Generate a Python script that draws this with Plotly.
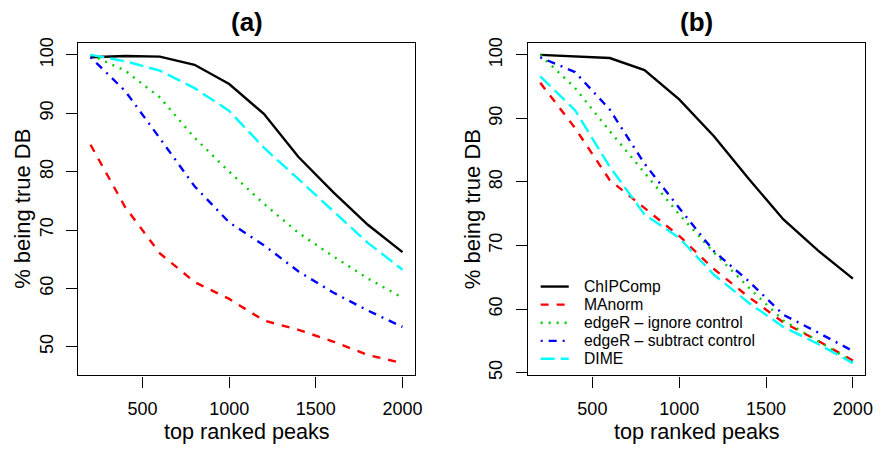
import plotly.graph_objects as go

W, H = 881, 450

peaks = [200, 400, 600, 800, 1000, 1200, 1400, 1600, 1800, 2000]

series_names = ["ChIPComp", "MAnorm", "edgeR \u2013 ignore control",
                "edgeR \u2013 subtract control", "DIME"]

chipcomp_a = [99.6, 99.8, 99.7, 98.3, 95.0, 89.9, 82.5, 76.5, 70.9, 66.2]
manorm_a = [84.6, 73.9, 66.0, 61.1, 58.2, 54.5, 52.9, 50.9, 48.6, 47.2]
edger_ign_a = [100.0, 97.3, 92.7, 85.8, 80.0, 74.5, 69.5, 65.5, 61.7, 58.4]
edger_sub_a = [99.6, 93.8, 85.7, 77.5, 71.3, 67.4, 62.9, 59.3, 56.2, 53.4]
dime_a = [100.0, 98.9, 97.3, 94.3, 90.4, 84.1, 78.7, 73.2, 67.8, 63.2]

chipcomp_b = [100.0, 99.8, 99.5, 97.6, 93.0, 87.2, 80.5, 74.1, 69.2, 64.8]
manorm_b = [95.6, 88.5, 80.3, 75.9, 71.5, 66.3, 61.9, 57.9, 55.0, 51.9]
edger_ign_b = [100.0, 94.8, 88.0, 81.5, 74.9, 68.9, 63.4, 58.2, 55.0, 51.7]
edger_sub_b = [99.6, 97.3, 91.4, 82.9, 75.9, 69.1, 64.4, 59.1, 56.3, 53.4]
dime_b = [96.6, 91.3, 82.4, 74.9, 71.2, 65.4, 61.0, 57.2, 54.5, 51.5]

x_ticks = [500, 1000, 1500, 2000]
y_ticks = [50, 60, 70, 80, 90, 100]

colors = ["#000000", "#FF0000", "#00CD00", "#0000FF", "#00FFFF"]
dashes = ["solid", "8px,8px", "2px,6px", "2px,6px,8px,6px", "14px,6px"]
LW = 2.4

FONT = "Liberation Sans, Arial, Helvetica, sans-serif"


def px_x(p):
    return p / W


def px_y(p):
    return 1 - p / H


def r_range(vals):
    lo, hi = min(vals), max(vals)
    d = (hi - lo) * 0.04
    return [lo - d, hi + d]


panels = [
    ("x", "y", [chipcomp_a, manorm_a, edger_ign_a, edger_sub_a, dime_a]),
    ("x2", "y2", [chipcomp_b, manorm_b, edger_ign_b, edger_sub_b, dime_b]),
]

fig = go.Figure()
for xa, ya, data in panels:
    for name, vals, c, d in zip(series_names, data, colors, dashes):
        fig.add_trace(go.Scatter(
            x=peaks, y=vals, mode="lines", name=name, showlegend=False,
            line=dict(color=c, width=LW, dash=d),
            xaxis=xa, yaxis=ya, hoverinfo="skip"))

# plot areas in pixels
a_left, a_right = 78.7, 418.3
b_left, b_right = 532.0, 872.3
top, bottom = 38.3, 378.0

all_a = chipcomp_a + manorm_a + edger_ign_a + edger_sub_a + dime_a
all_b = chipcomp_b + manorm_b + edger_ign_b + edger_sub_b + dime_b

axis_common = dict(
    showline=True, linecolor="#000000", linewidth=1.2, mirror=True,
    ticks="outside", ticklen=11, tickwidth=1.2, tickcolor="#000000",
    showgrid=False, zeroline=False,
    tickfont=dict(family=FONT, size=18, color="#000000"),
)

fig.update_layout(
    width=W, height=H,
    margin=dict(l=0, r=0, t=0, b=0),
    paper_bgcolor="white", plot_bgcolor="white",
    font=dict(family=FONT, color="#000000"),
    xaxis=dict(domain=[px_x(a_left), px_x(a_right)], range=r_range(peaks),
               tickvals=x_ticks, anchor="y", ticklabelstandoff=6, **axis_common),
    yaxis=dict(domain=[px_y(bottom), px_y(top)], range=r_range(all_a),
               tickvals=y_ticks, anchor="x", tickangle=-90,
               ticklabelstandoff=6, **axis_common),
    xaxis2=dict(domain=[px_x(b_left), px_x(b_right)], range=r_range(peaks),
                tickvals=x_ticks, anchor="y2", ticklabelstandoff=6, **axis_common),
    yaxis2=dict(domain=[px_y(bottom), px_y(top)], range=r_range(all_b),
                tickvals=y_ticks, anchor="x2", tickangle=-90,
                ticklabelstandoff=6, **axis_common),
)

annotations = []
# panel titles and x-axis titles
for txt, l, r in [("(a)", a_left, a_right), ("(b)", b_left, b_right)]:
    annotations.append(dict(
        text="<b>%s</b>" % txt, x=px_x((l + r) / 2), y=px_y(17.5),
        xref="paper", yref="paper", showarrow=False,
        xanchor="center", yanchor="middle",
        font=dict(family=FONT, size=26, color="#000000")))
    annotations.append(dict(
        text="top ranked peaks", x=px_x((l + r) / 2), y=px_y(435.5),
        xref="paper", yref="paper", showarrow=False,
        xanchor="center", yanchor="middle",
        font=dict(family=FONT, size=21.6, color="#000000")))
# y-axis titles
for cx in [23, 477]:
    annotations.append(dict(
        text="% being true DB", x=px_x(cx), y=px_y((top + bottom) / 2),
        xref="paper", yref="paper", showarrow=False, textangle=-90,
        xanchor="center", yanchor="middle",
        font=dict(family=FONT, size=22, color="#000000")))

# legend (panel b)
shapes = []
leg_y = [287.3, 305.7, 324.3, 342.7, 361.0]
for name, c, d, yy in zip(series_names, colors, dashes, leg_y):
    shapes.append(dict(type="line", xref="paper", yref="paper",
                       x0=px_x(545), x1=px_x(573.3), y0=px_y(yy), y1=px_y(yy),
                       line=dict(color=c, width=LW, dash=d)))
    annotations.append(dict(
        text=name, x=px_x(586.7), y=px_y(yy), xref="paper", yref="paper",
        showarrow=False, xanchor="left", yanchor="middle",
        font=dict(family=FONT, size=15.7, color="#000000")))

fig.update_layout(annotations=annotations, shapes=shapes)
fig.write_html("out.html")
